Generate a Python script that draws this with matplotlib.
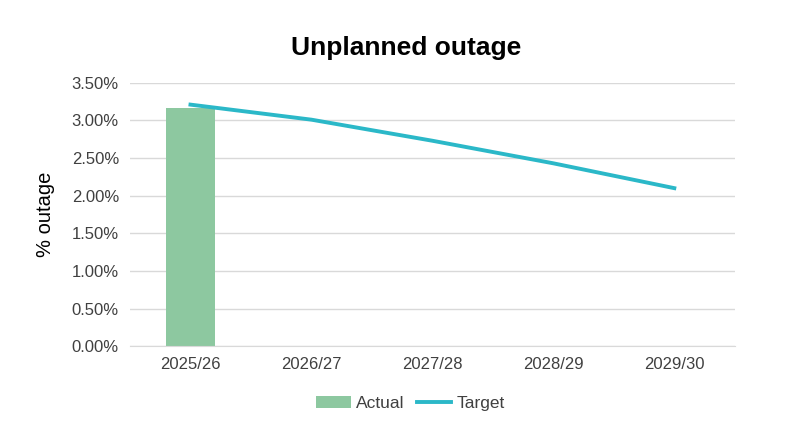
import matplotlib.pyplot as plt
import numpy as np
from matplotlib.ticker import FuncFormatter

years = ["2025/26", "2026/27", "2027/28", "2028/29", "2029/30"]
actual = [3.16]
target = [3.21, 3.01, 2.73, 2.43, 2.10]

plt.rcParams['font.family'] = ['Liberation Sans', 'DejaVu Sans']

fig = plt.figure(figsize=(8, 4.29), dpi=100)
ax = fig.add_axes([0.1625, 0.193, 0.756, 0.614])

x = np.arange(len(years))
bars = ax.bar(x[:len(actual)], actual, width=0.4, color="#8dc8a0", label="Actual", zorder=2)
line, = ax.plot(x, target, color="#2bb8c8", linewidth=2.8, label="Target", zorder=3)

ax.set_xlim(-0.5, len(years) - 0.5)
ax.set_ylim(0, 3.5)
ax.set_yticks(np.arange(0, 3.51, 0.5))
ax.yaxis.set_major_formatter(FuncFormatter(lambda v, p: f"{v:.2f}%"))
ax.set_xticks(x)
ax.set_xticklabels(years)

ax.grid(axis="y", color="#d9d9d9", linewidth=1, zorder=0)
ax.set_axisbelow(True)
for s in ["top", "right", "left"]:
    ax.spines[s].set_visible(False)
ax.spines["bottom"].set_color("#d9d9d9")
ax.tick_params(axis="both", length=0, labelsize=12, colors="#404040", pad=8)

ax.set_ylabel("% outage", fontsize=14.5, color="black", labelpad=12)
fig.suptitle("Unplanned outage", fontsize=19, fontweight="bold", x=0.508, y=0.915)

fig.legend([bars, line], ["Actual", "Target"], loc="center", bbox_to_anchor=(0.513, 0.06),
           ncol=2, frameon=False, fontsize=12.5, handlelength=2, handletextpad=0.3,
           columnspacing=0.7, labelcolor="#404040")

fig.savefig("out.png", dpi=100)
